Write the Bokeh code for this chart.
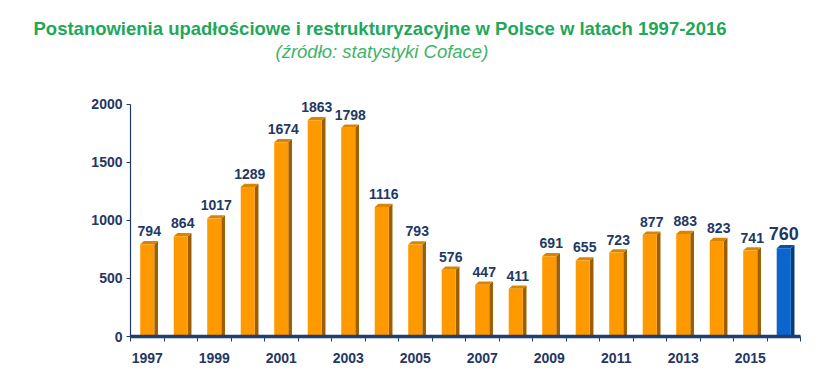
from bokeh.plotting import figure
from bokeh.models import Range1d, FixedTicker, Title, ColumnDataSource
from bokeh.embed import file_html
from bokeh.resources import INLINE
from bokeh.core.properties import value

years = [str(y) for y in range(1997, 2017)]
counts = [794, 864, 1017, 1289, 1674, 1863, 1798, 1116, 793, 576,
          447, 411, 691, 655, 723, 877, 883, 823, 741, 760]
y_ticks = [0, 500, 1000, 1500, 2000]
label_years = ["1997", "1999", "2001", "2003", "2005", "2007", "2009", "2011", "2013", "2015"]

NAVY = "#1F3864"
FONT = "Liberation Sans"

W = 0.42     # front face width (category units)
DX = 0.11    # depth x offset
DY = 28      # depth y offset (value units)

p = figure(width=810, height=365, output_backend="svg", toolbar_location=None,
           x_range=Range1d(0, 20), y_range=Range1d(0, 2120),
           min_border_left=130, min_border_right=10, min_border_bottom=28,
           min_border_top=90)
p.grid.visible = False
p.outline_line_color = None
p.background_fill_color = "white"

# invisible (white) spacer between plot area and subtitle
spacer = Title(text=".", text_color="white", text_font_size="10px", standoff=19)
p.add_layout(spacer, "above")
sub = Title(text="(źródło: statystyki Coface)", align="left", offset=145,
            text_font=FONT, text_font_size="18.5px", text_font_style="italic",
            text_color="#3DB36A", standoff=0)
p.add_layout(sub, "above")
main = Title(text="Postanowienia upadłościowe i restrukturyzacyjne w Polsce w latach 1997-2016",
             align="left", offset=-97, text_font=FONT, text_font_size="18.5px",
             text_font_style="bold", text_color="#1EA85A", standoff=0)
p.add_layout(main, "above")

xs = [i + 0.5 for i in range(len(years))]
last = len(years) - 1
front_col = ["#FF9900"] * last + ["#0A66CC"]
side_col = ["#9C5E00"] * last + ["#073C7A"]
top_col = ["#D98500"] * last + ["#0652A8"]

# side faces and top faces, computed from values
side_x, side_y, top_x, top_y = [], [], [], []
for x, v in zip(xs, counts):
    r = x + W / 2
    l = x - W / 2
    side_x.append([r, r + DX, r + DX, r])
    side_y.append([0, DY * 0.3, v + DY, v])
    top_x.append([l, r, r + DX, l + DX])
    top_y.append([v, v, v + DY, v + DY])

p.patches(side_x, side_y, fill_color=side_col, line_color=None)
p.patches(top_x, top_y, fill_color=top_col, line_color=None)
src = ColumnDataSource(dict(x=xs, top=counts, c=front_col))
p.vbar(x="x", top="top", width=W, bottom=0, fill_color="c", line_color=None, source=src)

# value labels
p.text(x=xs[:last], y=counts[:last], text=[str(c) for c in counts[:last]],
       x_offset=2, y_offset=-8, text_align="center", text_baseline="bottom",
       text_font=value(FONT), text_font_size="14px", text_font_style="bold",
       text_color=NAVY)
p.text(x=xs[last:], y=counts[last:], text=[str(c) for c in counts[last:]],
       x_offset=0, y_offset=-8, text_align="center", text_baseline="bottom",
       text_font=value(FONT), text_font_size="18px", text_font_style="bold",
       text_color=NAVY)

# y axis
ya = p.yaxis[0]
ya.ticker = FixedTicker(ticks=y_ticks)
ya.bounds = (0, 2000)
ya.axis_line_color = NAVY
ya.axis_line_width = 1.2
ya.major_tick_line_color = NAVY
ya.major_tick_out = 4
ya.major_tick_in = 0
ya.minor_tick_line_color = None
ya.major_label_text_font = FONT
ya.major_label_text_font_size = "14px"
ya.major_label_text_font_style = "bold"
ya.major_label_text_color = NAVY
ya.major_label_standoff = 4

# x axis
xa = p.xaxis[0]
major = [years.index(y) + 0.5 for y in label_years]
xa.ticker = FixedTicker(ticks=major, minor_ticks=list(range(0, 21)))
xa.major_label_overrides = {m: y for m, y in zip(major, label_years)}
xa.bounds = (0, 20)
xa.axis_line_color = "#1F3F73"
xa.axis_line_width = 3.5
xa.major_tick_line_color = None
xa.major_tick_out = 0
xa.major_tick_in = 0
xa.minor_tick_line_color = "#1F3F73"
xa.minor_tick_out = 5
xa.minor_tick_in = 0
xa.major_label_text_font = FONT
xa.major_label_text_font_size = "14px"
xa.major_label_text_font_style = "bold"
xa.major_label_text_color = NAVY
xa.major_label_standoff = 11

open("out.html", "w").write(file_html(p, INLINE))
